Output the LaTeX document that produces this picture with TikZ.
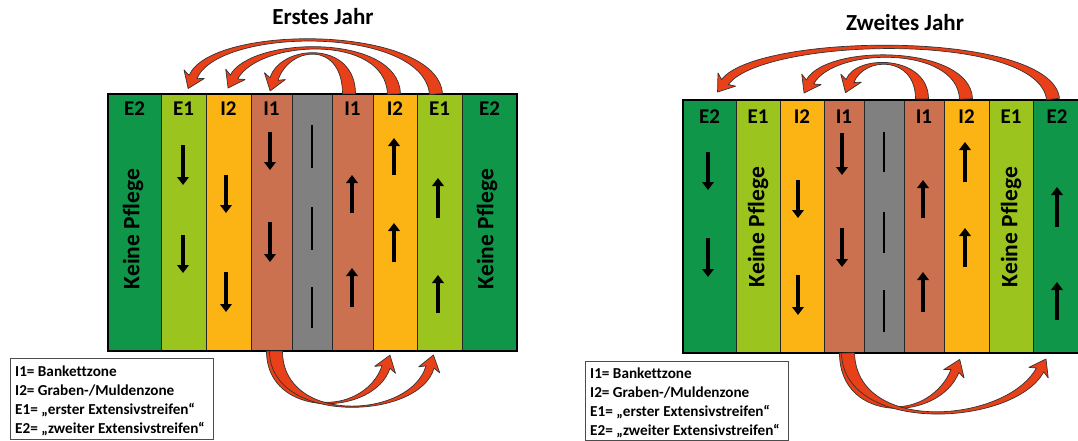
\documentclass[tikz,border=0pt]{standalone}
\usepackage{fontspec}
\setmainfont[Ligatures=NoCommon]{Carlito}
\usetikzlibrary{calc,arrows.meta}
\definecolor{cE2}{RGB}{16,150,72}
\definecolor{cE1}{RGB}{155,196,30}
\definecolor{cI2}{RGB}{251,180,20}
\definecolor{cI1}{RGB}{204,113,80}
\definecolor{cRoad}{RGB}{128,128,128}
\definecolor{cRed}{RGB}{232,64,24}
\tikzset{
 strip/.style={draw=black!85, line width=1pt, inner sep=0pt, outer sep=0pt, rectangle, anchor=north west},
 lbl/.style={font=\fontsize{21}{25}\selectfont\bfseries, inner sep=0pt, anchor=base},
 keine/.style={font=\fontsize{23.5}{27}\selectfont\bfseries, rotate=90, inner sep=0pt},
 dirarr/.style={line width=4.4pt, -{Triangle[width=11.5pt,length=8pt]}},
 roadline/.style={line width=1.4pt},
 bigarr/.style={fill=cRed, draw=black!80, line width=0.7pt, line join=round},
 legbox/.style={draw=black!70, line width=0.8pt, anchor=north west, minimum width=203pt, inner sep=0pt},
 legtext/.style={anchor=base west, inner sep=0pt, font=\fontsize{15.2}{19}\selectfont\bfseries},
 title/.style={font=\fontsize{23}{27}\selectfont\bfseries, anchor=base, inner sep=0pt}
}
\newcommand\bigarrow[4]{%
  \coordinate (ba-s) at #1; \coordinate (ba-c1) at #2;
  \coordinate (ba-c2) at #3; \coordinate (ba-e) at #4;
  \coordinate (ba-sl) at ($(ba-s)!6.5pt!90:(ba-c1)$);
  \coordinate (ba-sr) at ($(ba-s)!6.5pt!-90:(ba-c1)$);
  \coordinate (ba-el) at ($(ba-e)!4.2pt!-90:(ba-c2)$);
  \coordinate (ba-er) at ($(ba-e)!4.2pt!90:(ba-c2)$);
  \coordinate (ba-b) at ($(ba-e)!3pt!(ba-c2)$);
  \coordinate (ba-hl) at ($(ba-b)!11pt!-90:(ba-c2)$);
  \coordinate (ba-hr) at ($(ba-b)!11pt!90:(ba-c2)$);
  \coordinate (ba-t) at ($(ba-e)!-12.5pt!(ba-c2)$);
  \filldraw[bigarr] (ba-sl) .. controls ($(ba-c1)+(ba-sl)-(ba-s)$) and ($(ba-c2)+(ba-el)-(ba-e)$) .. (ba-el)
    -- (ba-hl) -- (ba-t) -- (ba-hr) -- (ba-er)
    .. controls ($(ba-c2)+(ba-er)-(ba-e)$) and ($(ba-c1)+(ba-sr)-(ba-s)$) .. (ba-sr) -- cycle;
}
\begin{document}
\begin{tikzpicture}[x=1pt,y=-1pt]
\useasboundingbox[fill=white] (0,0) rectangle (1078,441);
% ---------- left panel ----------
\foreach \xa/\xb/\col/\nm in {108/161/cE2/L1,161/206/cE1/L2,206/251/cI2/L3,251/292/cI1/L4,292/332/cRoad/L5,332/373/cI1/L6,373/417/cI2/L7,417/462/cE1/L8,462/517/cE2/L9}
  \node[strip, fill=\col, minimum width={(\xb-\xa)*1pt}, minimum height=257pt] (\nm) at (\xa,94) {};
\draw[line width=1.3pt] (L1.north west) rectangle (L9.south east);
\foreach \nm/\t in {L1/E2,L2/E1,L3/I2,L4/I1,L6/I1,L7/I2,L8/E1,L9/E2}
  \node[lbl] (lbl\nm) at ([yshift=-21.5pt]\nm.north) {\t};
\node[keine] (kpL1) at (133,229) {Keine Pflege};
\node[keine] (kpL9) at (487,229) {Keine Pflege};
\foreach \x/\ya/\yb in {183/145/185,183/235/273,226/175/213,226/272/312,270/132/170,270/222/262,
  352/213/175,352/307/268,394/175/138,394/262/223,438/218/178,438/313/275}
  \draw[dirarr] (\x,\ya) -- (\x,\yb);
\foreach \ya/\yb in {125/168,207/250,287/328}
  \draw[roadline] (312,\ya) -- (312,\yb);
\node[title] (t1) at (323,24.5) {Erstes Jahr};
\bigarrow{(349,94)}{(349,40)}{(285,45)}{(274,79)}
\bigarrow{(394,94)}{(392,33)}{(255,38)}{(234,77)}
\bigarrow{(436,94)}{(430,25)}{(215,25)}{(193,77)}
\bigarrow{(273,351)}{(273,420)}{(370,415)}{(386,367)}
\bigarrow{(276,351)}{(276,425)}{(415,420)}{(430,367)}
\node[legbox, minimum height=81pt] (legL) at (10,358) {};
\node[legtext] (legL1) at (15,376) {I1= Bankettzone};
\node[legtext] (legL2) at (15,395.3) {I2= Graben-/Muldenzone};
\node[legtext] (legL3) at (15,414.6) {E1= „erster Extensivstreifen“};
\node[legtext] (legL4) at (15,433.9) {E2= „zweiter Extensivstreifen“};
% ---------- right panel ----------
\foreach \xa/\xb/\col/\nm in {683/736/cE2/R1,736/780/cE1/R2,780/824/cI2/R3,824/864/cI1/R4,864/904/cRoad/R5,904/944/cI1/R6,944/989/cI2/R7,989/1033/cE1/R8,1033/1083/cE2/R9}
  \node[strip, fill=\col, minimum width={(\xb-\xa)*1pt}, minimum height=253pt] (\nm) at (\xa,100) {};
\draw[line width=1.3pt] (R1.north west) rectangle (R9.south east);
\foreach \nm/\t in {R1/E2,R2/E1,R3/I2,R4/I1,R6/I1,R7/I2,R8/E1}
  \node[lbl] (lbl\nm) at ([yshift=-23.5pt]\nm.north) {\t};
\node[lbl] (lblR9) at (1057,123.5) {E2};
\node[keine] (kpR2) at (758,227) {Keine Pflege};
\node[keine] (kpR8) at (1011,227) {Keine Pflege};
\foreach \x/\ya/\yb in {708/152/190,708/238/277,798/180/218,798/275/315,842/133/175,842/228/267,
  923/218/180,923/312/272,965/182/142,965/267/228,1057/227/187,1057/320/282}
  \draw[dirarr] (\x,\ya) -- (\x,\yb);
\foreach \ya/\yb in {132/172,212/253,290/332}
  \draw[roadline] (884,\ya) -- (884,\yb);
\node[title] (t2) at (905,31) {Zweites Jahr};
\bigarrow{(922,99)}{(922,55)}{(860,55)}{(850,81)}
\bigarrow{(966,99)}{(964,45)}{(830,45)}{(810,82)}
\bigarrow{(1053,99)}{(1045,30)}{(760,35)}{(725,82)}
\bigarrow{(846,353)}{(846,425)}{(935,420)}{(955,371)}
\bigarrow{(848,353)}{(850,435)}{(1010,425)}{(1040,370)}
\node[legbox, minimum height=79pt] (legR) at (585,361) {};
\node[legtext] (legR1) at (590,378) {I1= Bankettzone};
\node[legtext] (legR2) at (590,397) {I2= Graben-/Muldenzone};
\node[legtext] (legR3) at (590,416) {E1= „erster Extensivstreifen“};
\node[legtext] (legR4) at (590,435) {E2= „zweiter Extensivstreifen“};
\end{tikzpicture}
\end{document}
